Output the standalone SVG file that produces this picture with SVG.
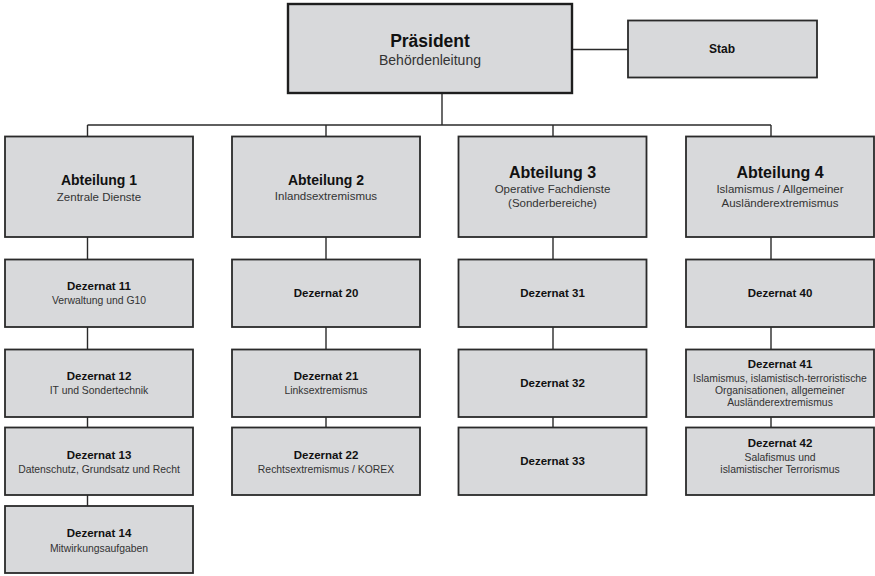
<svg xmlns="http://www.w3.org/2000/svg" width="875" height="576" viewBox="0 0 875 576">
<style>
  .box { fill: #d8d9db; stroke: #2a2a2a; stroke-width: 1.8; }
  .pbox { fill: #d8d9db; stroke: #1e1e1e; stroke-width: 2.4; }
  .con { stroke: #2a2a2a; stroke-width: 1.4; fill: none; }
  text { font-family: "Liberation Sans", Arial, Helvetica, sans-serif; text-anchor: middle; }
  .b { font-weight: bold; fill: #111; }
  .s { fill: #333; }
  .t1 { font-size: 17.5px; }
  .t2 { font-size: 14px; }
  .t3 { font-size: 16px; }
  .sa { font-size: 11.5px; }
  .d { font-size: 11.5px; }
  .ds { font-size: 10.4px; }
</style>
<g id="connectors">
  <line class="con" x1="572" y1="49.5" x2="628" y2="49.5"/>
  <line class="con" x1="442" y1="93" x2="442" y2="125"/>
  <line class="con" x1="87.5" y1="125" x2="771" y2="125"/>
  <line class="con" x1="87.5" y1="125" x2="87.5" y2="506"/>
  <line class="con" x1="326" y1="125" x2="326" y2="427"/>
  <line class="con" x1="553" y1="125" x2="553" y2="427"/>
  <line class="con" x1="771" y1="125" x2="771" y2="427"/>
</g>
<g id="praesident">
  <rect class="pbox" x="288" y="4" width="284" height="89"/>
  <text class="b t1" x="430" y="47">Präsident</text>
  <text class="s t2" x="430" y="65">Behördenleitung</text>
</g>
<g id="stab">
  <rect class="box" x="628" y="20.5" width="189" height="57"/>
  <text class="b" font-size="12" x="722" y="53">Stab</text>
</g>
<g id="abteilung1">
  <rect class="box" x="5" y="136.5" width="188" height="100.5"/>
  <text class="b t2" x="99" y="185">Abteilung 1</text>
  <text class="s sa" x="99" y="201">Zentrale Dienste</text>
</g>
<g id="abteilung2">
  <rect class="box" x="232" y="136.5" width="188" height="100.5"/>
  <text class="b t2" x="326" y="185">Abteilung 2</text>
  <text class="s sa" x="326" y="200">Inlandsextremismus</text>
</g>
<g id="abteilung3">
  <rect class="box" x="458.5" y="136.5" width="188" height="100.5"/>
  <text class="b t3" x="552.5" y="178">Abteilung 3</text>
  <text class="s sa" x="552.5" y="193">Operative Fachdienste</text>
  <text class="s sa" x="552.5" y="207">(Sonderbereiche)</text>
</g>
<g id="abteilung4">
  <rect class="box" x="686" y="136.5" width="188" height="100.5"/>
  <text class="b t3" x="780" y="178">Abteilung 4</text>
  <text class="s sa" x="780" y="193">Islamismus / Allgemeiner</text>
  <text class="s sa" x="780" y="207">Ausländerextremismus</text>
</g>
<g id="dezernat11">
  <rect class="box" x="5" y="259.5" width="188" height="67.5"/>
  <text class="b d" x="99" y="290">Dezernat 11</text>
  <text class="s ds" x="99" y="304">Verwaltung und G10</text>
</g>
<g id="dezernat12">
  <rect class="box" x="5" y="349.5" width="188" height="67.5"/>
  <text class="b d" x="99" y="380">Dezernat 12</text>
  <text class="s ds" x="99" y="394">IT und Sondertechnik</text>
</g>
<g id="dezernat13">
  <rect class="box" x="5" y="427.5" width="188" height="67.5"/>
  <text class="b d" x="99" y="459">Dezernat 13</text>
  <text class="s ds" x="99" y="473">Datenschutz, Grundsatz und Recht</text>
</g>
<g id="dezernat14">
  <rect class="box" x="5" y="506" width="188" height="67"/>
  <text class="b d" x="99" y="537">Dezernat 14</text>
  <text class="s ds" x="99" y="552">Mitwirkungsaufgaben</text>
</g>
<g id="dezernat20">
  <rect class="box" x="232" y="259.5" width="188" height="67.5"/>
  <text class="b d" x="326" y="297">Dezernat 20</text>
</g>
<g id="dezernat21">
  <rect class="box" x="232" y="349.5" width="188" height="67.5"/>
  <text class="b d" x="326" y="380">Dezernat 21</text>
  <text class="s ds" x="326" y="394">Linksextremismus</text>
</g>
<g id="dezernat22">
  <rect class="box" x="232" y="427.5" width="188" height="67.5"/>
  <text class="b d" x="326" y="459">Dezernat 22</text>
  <text class="s ds" x="326" y="473">Rechtsextremismus / KOREX</text>
</g>
<g id="dezernat31">
  <rect class="box" x="458.5" y="259.5" width="188" height="67.5"/>
  <text class="b d" x="552.5" y="297">Dezernat 31</text>
</g>
<g id="dezernat32">
  <rect class="box" x="458.5" y="349.5" width="188" height="67.5"/>
  <text class="b d" x="552.5" y="387">Dezernat 32</text>
</g>
<g id="dezernat33">
  <rect class="box" x="458.5" y="427.5" width="188" height="67.5"/>
  <text class="b d" x="552.5" y="465">Dezernat 33</text>
</g>
<g id="dezernat40">
  <rect class="box" x="686" y="259.5" width="188" height="67.5"/>
  <text class="b d" x="780" y="297">Dezernat 40</text>
</g>
<g id="dezernat41">
  <rect class="box" x="686" y="349.5" width="188" height="67.5"/>
  <text class="b d" x="780" y="368">Dezernat 41</text>
  <text class="s ds" x="780" y="382">Islamismus, islamistisch-terroristische</text>
  <text class="s ds" x="780" y="394">Organisationen, allgemeiner</text>
  <text class="s ds" x="780" y="406">Ausländerextremismus</text>
</g>
<g id="dezernat42">
  <rect class="box" x="686" y="427.5" width="188" height="67.5"/>
  <text class="b d" x="780" y="447">Dezernat 42</text>
  <text class="s ds" x="780" y="461">Salafismus und</text>
  <text class="s ds" x="780" y="473">islamistischer Terrorismus</text>
</g>
</svg>
